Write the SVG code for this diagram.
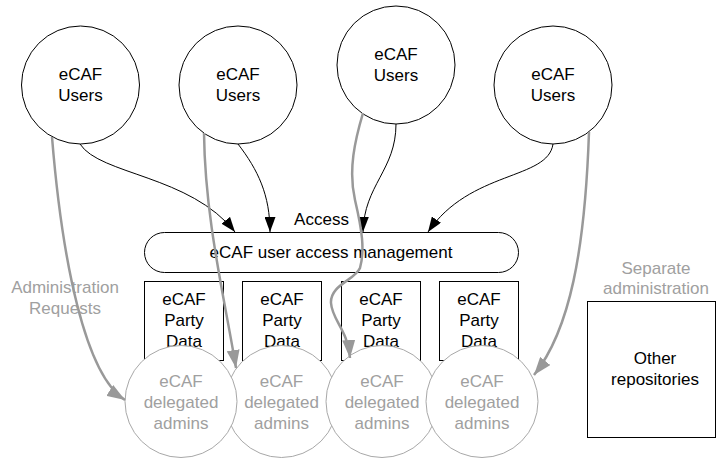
<svg xmlns="http://www.w3.org/2000/svg" width="716" height="460" viewBox="0 0 716 460">
  <style>
    text { font-family: "Liberation Sans", Arial, sans-serif; font-size: 17px; text-anchor: middle; fill: #000; }
    .gray { fill: #a0a0a0; }
    .user { fill: #fff; stroke: #000; stroke-width: 1; }
    .admin { fill: #fff; stroke: #a8a8a8; stroke-width: 1; }
    .box { fill: #fff; stroke: #000; stroke-width: 1; }
    .link { fill: none; stroke: #000; stroke-width: 1; }
    .req { fill: none; stroke: #999; stroke-width: 2.5; }
  </style>
  <defs>
    <marker id="arrowBlack" markerUnits="userSpaceOnUse" markerWidth="15" markerHeight="11" refX="15" refY="5.5" orient="auto">
      <path d="M0,0 L15,5.5 L0,11 z" fill="#000"/>
    </marker>
    <marker id="arrowGray" markerUnits="userSpaceOnUse" markerWidth="18" markerHeight="13" refX="18" refY="6.5" orient="auto">
      <path d="M0,0 L18,6.5 L0,13 z" fill="#999"/>
    </marker>
  </defs>
  <rect width="716" height="460" fill="#fff"/>

  <!-- party data stores -->
  <g id="party1"><rect class="box" x="144.5" y="281.5" width="79" height="79"/><text x="184" y="305">eCAF</text><text x="184" y="326">Party</text><text x="184" y="347">Data</text></g>
  <g id="party2"><rect class="box" x="242.5" y="281.5" width="79" height="79"/><text x="282" y="305">eCAF</text><text x="282" y="326">Party</text><text x="282" y="347">Data</text></g>
  <g id="party3"><rect class="box" x="341.5" y="281.5" width="79" height="79"/><text x="381" y="305">eCAF</text><text x="381" y="326">Party</text><text x="381" y="347">Data</text></g>
  <g id="party4"><rect class="box" x="439.5" y="281.5" width="79" height="79"/><text x="479" y="305">eCAF</text><text x="479" y="326">Party</text><text x="479" y="347">Data</text></g>

  <!-- access management bar -->
  <g id="access">
    <rect class="box" x="144.5" y="232.5" width="374" height="40" rx="20" ry="20"/>
    <text x="331" y="258">eCAF user access management</text>
    <text x="321.5" y="225">Access</text>
  </g>

  <!-- delegated admins (drawn so that neighbours overlap as shown) -->
  <g id="admin2"><circle class="admin" cx="281.5" cy="401.5" r="56"/><text class="gray" x="281.5" y="386.5">eCAF</text><text class="gray" x="281.5" y="408">delegated</text><text class="gray" x="281.5" y="428.5">admins</text></g>
  <g id="admin1"><circle class="admin" cx="181" cy="401.5" r="56"/><text class="gray" x="181" y="386.5">eCAF</text><text class="gray" x="181" y="408">delegated</text><text class="gray" x="181" y="428.5">admins</text></g>
  <g id="admin3"><circle class="admin" cx="382" cy="401.5" r="56"/><text class="gray" x="382" y="386.5">eCAF</text><text class="gray" x="382" y="408">delegated</text><text class="gray" x="382" y="428.5">admins</text></g>
  <g id="admin4"><circle class="admin" cx="482" cy="401.5" r="56"/><text class="gray" x="482" y="386.5">eCAF</text><text class="gray" x="482" y="408">delegated</text><text class="gray" x="482" y="428.5">admins</text></g>

  <!-- user groups -->
  <g id="users1"><circle class="user" cx="80.5" cy="85" r="59"/><text x="80.5" y="80">eCAF</text><text x="80.5" y="101">Users</text></g>
  <g id="users2"><circle class="user" cx="238" cy="85" r="59"/><text x="238" y="80">eCAF</text><text x="238" y="101">Users</text></g>
  <g id="users3"><circle class="user" cx="396" cy="65" r="59"/><text x="396" y="60">eCAF</text><text x="396" y="81">Users</text></g>
  <g id="users4"><circle class="user" cx="553" cy="85" r="59"/><text x="553" y="80">eCAF</text><text x="553" y="101">Users</text></g>

  <!-- other repositories -->
  <g id="other">
    <text class="gray" x="656" y="274">Separate</text>
    <text class="gray" x="656" y="294">administration</text>
    <rect class="box" x="587.5" y="301.5" width="128" height="136"/>
    <text x="655" y="364">Other</text>
    <text x="655" y="385">repositories</text>
  </g>

  <g id="reqLabel">
    <text class="gray" x="65" y="293">Administration</text>
    <text class="gray" x="65" y="314">Requests</text>
  </g>

  <!-- connectors -->
  <g id="connectors">
    <path class="link" d="M80,144 C100,175 190,175 235,232" marker-end="url(#arrowBlack)"/>
    <path class="link" d="M238,144 C258,170 270,195 270,232" marker-end="url(#arrowBlack)"/>
    <path class="link" d="M396,124 C396,170 364,185 363,232" marker-end="url(#arrowBlack)"/>
    <path class="link" d="M553,144 C548,180 470,170 428,232" marker-end="url(#arrowBlack)"/>

    <path class="req" d="M52,137 C62,260 85,375 125,400" marker-end="url(#arrowGray)"/>
    <path class="req" d="M204,133 C205,220 225,300 236,368" marker-end="url(#arrowGray)"/>
    <path class="req" d="M363,113 C355,140 348,170 355,200 S365,250 360,268 C355,280 330,285 331,303 C332,320 348,330 350,358" marker-end="url(#arrowGray)"/>
    <path class="req" d="M589,132 C585,250 570,330 534,375" marker-end="url(#arrowGray)"/>
  </g>
</svg>
